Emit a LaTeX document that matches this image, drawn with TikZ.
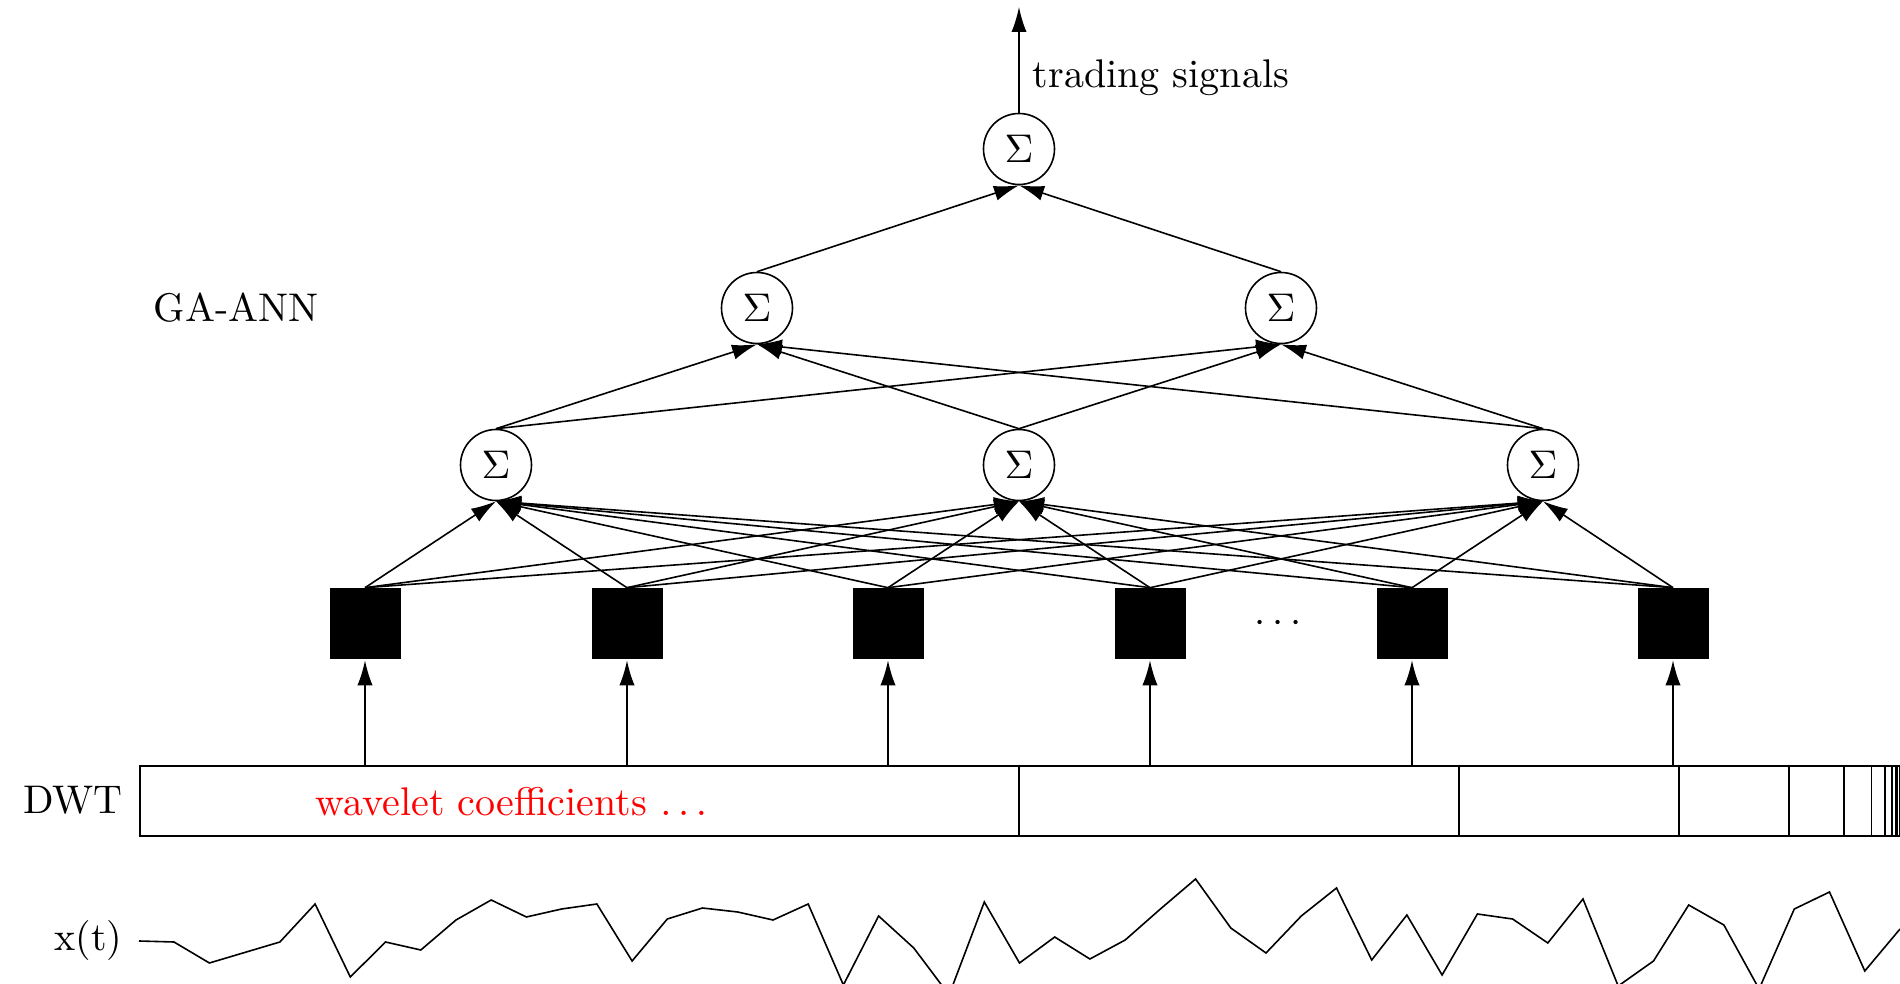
\documentclass[tikz,border=0pt]{standalone}
\usetikzlibrary{arrows.meta}
\begin{document}
\begin{tikzpicture}[x=0.25pt,y=-0.25pt,
  sum/.style={circle,draw,line width=0.4pt,minimum size=17.75pt,inner sep=0pt},
  unit/.style={rectangle,fill=black,minimum size=17.75pt,inner sep=0pt},
  wire/.style={line width=0.4pt,-{Latex[length=6.25pt,width=3.8pt]}},
  lbl/.style={inner sep=0pt}]
\useasboundingbox (0,0) rectangle (1900,984);

% output neuron
\node[sum] (out) at (1019,149) {$\Sigma$};
\coordinate (sig) at (1019,7);
\draw[wire] (out.north) -- (sig);
\node[lbl,anchor=west] (siglbl) at (1032,78) {trading signals};

% hidden layers
\node[sum] (h1) at (757,308) {$\Sigma$};
\node[sum] (h2) at (1281,308) {$\Sigma$};
\node[sum] (g1) at (496,465) {$\Sigma$};
\node[sum] (g2) at (1019,465) {$\Sigma$};
\node[sum] (g3) at (1543,465) {$\Sigma$};
\node[lbl] (ga) at (236,308) {GA-ANN};

% input units
\foreach \i/\x in {1/365,2/627,3/888,4/1150,5/1412,6/1673}
  \node[unit] (s\i) at (\x,624) {};
\node[lbl] (dots) at (1278,624) {$\cdots$};

% connections
\foreach \a in {h1,h2} \draw[wire] (\a.north) -- (out.south);
\foreach \a in {g1,g2,g3} \foreach \b in {h1,h2} \draw[wire] (\a.north) -- (\b.south);
\foreach \a in {s1,s2,s3,s4,s5,s6} \foreach \b in {g1,g2,g3} \draw[wire] (\a.north) -- (\b.south);

% wavelet decomposition bar
\node[draw,line width=0.4pt,anchor=north west,minimum width=440pt,minimum height=17.5pt,inner sep=0pt] (dwt) at (139,765) {};
\foreach \k in {1,...,10}
  \draw[line width=0.4pt] ({1899-1760/(2^\k)},765) -- ++(0,70);
\node[lbl] (dwtlbl) at (73,800) {DWT};
\node[lbl,text=red,anchor=west] (coef) at (315,802) {wavelet coefficients $\ldots$};
\foreach \i in {1,...,6}
  \draw[wire] (s\i |- dwt.north) -- (s\i.south);

% input series
\node[lbl,anchor=east] (xt) at (123,940) {x(t)};
\draw[line width=0.4pt] (139,941) -- (174,942) -- (209.4,963) -- (279.9,942)
  -- (315.1,904) -- (350.3,977) -- (385.5,942) -- (420.8,950) -- (456,920)
  -- (491.2,900) -- (526.4,917) -- (561.6,909) -- (596.9,904) -- (632.1,961)
  -- (667.3,919) -- (702.5,908) -- (737.7,912) -- (773,920) -- (808.2,904)
  -- (843.4,985) -- (878.6,916) -- (913.8,948) -- (949.1,995) -- (984.3,902)
  -- (1019.5,963) -- (1054.7,937) -- (1089.9,959) -- (1125.2,940) -- (1160.4,909)
  -- (1195.6,879) -- (1230.8,928) -- (1266,953) -- (1301.3,916) -- (1336.5,888)
  -- (1371.7,960) -- (1406.9,915) -- (1442.1,975) -- (1477.4,914) -- (1512.6,919)
  -- (1547.8,943) -- (1583,899) -- (1618.2,986) -- (1653.5,961) -- (1688.7,905)
  -- (1723.9,925) -- (1759.1,989) -- (1794.3,909) -- (1829.5,892) -- (1864.8,971)
  -- (1900,929);
\end{tikzpicture}
\end{document}
